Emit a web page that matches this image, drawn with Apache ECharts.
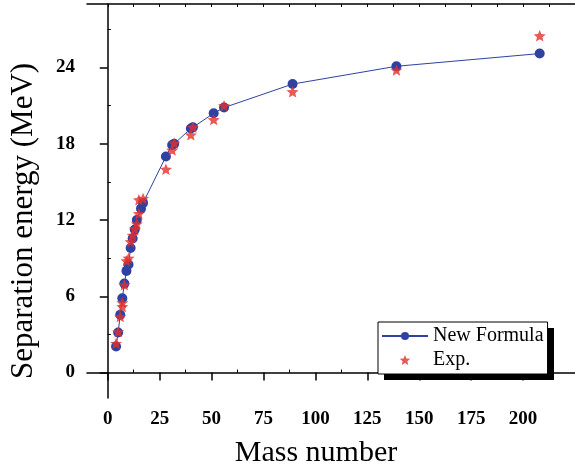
<!DOCTYPE html>
<html>
<head>
<meta charset="utf-8">
<title>Separation energy</title>
<script src="https://cdn.jsdelivr.net/npm/echarts@6/dist/echarts.min.js"></script>
<style>
html,body{margin:0;padding:0;background:#fff;}
#chart{width:575px;height:473px;}
</style>
</head>
<body>
<div id="chart"></div>
<script>
// 数据
var massFormula = [4, 5, 6, 7, 8, 9, 10, 11, 12, 13, 14, 16, 17, 28, 31, 32, 40, 41, 51, 56, 89, 139, 208];
var sepFormula  = [2.05, 3.15, 4.55, 5.85, 7.0, 8.0, 8.5, 9.8, 10.55, 11.25, 12.0, 12.9, 13.35, 17.0, 17.9, 18.0, 19.2, 19.3, 20.4, 20.85, 22.7, 24.1, 25.1];
var massExp = [4, 5, 6, 7, 7, 8, 9, 10, 11, 12, 13, 14, 15, 15, 17, 28, 31, 32, 40, 41, 51, 56, 89, 139, 208];
var sepExp  = [2.3, 3.2, 4.4, 5.2, 5.5, 6.9, 8.8, 9.0, 10.3, 10.8, 11.3, 11.7, 12.5, 13.6, 13.7, 16.0, 17.5, 18.05, 18.7, 19.3, 19.9, 21.0, 22.1, 23.8, 26.5];
var xMajor = [0, 25, 50, 75, 100, 125, 150, 175, 200];
var xMinor = [12.5, 37.5, 62.5, 87.5, 112.5, 137.5, 162.5, 187.5, 212.5];
var yMajor = [0, 6, 12, 18, 24];
var yMinor = [3, 9, 15, 21, 27];

var font = '"Liberation Serif", "Times New Roman", serif';
var starPath = 'path://M0,-10 L2.645,-3.64 L9.51,-3.09 L4.28,1.39 L5.88,8.09 L0,4.5 L-5.88,8.09 L-4.28,1.39 L-9.51,-3.09 L-2.645,-3.64 Z';

function pairs(xs, ys) {
    var out = [];
    for (var i = 0; i < xs.length; i++) out.push([xs[i], ys[i]]);
    return out;
}

var xRange = {min: -10, max: 225};
var yRange = {min: -2, max: 29};

function xAx(extra) {
    return Object.assign({type: 'value', min: xRange.min, max: xRange.max, splitLine: {show: false}}, extra);
}
function yAx(extra) {
    return Object.assign({type: 'value', min: yRange.min, max: yRange.max, splitLine: {show: false}}, extra);
}

var myChart = echarts.init(document.getElementById('chart'));
var option = {
    animation: false,
    backgroundColor: '#fff',
    grid: {left: 86, top: 4, right: -4.5, bottom: 75, containLabel: false},
    // 图例阴影
    graphic: [{
        type: 'rect', z: 0,
        shape: {x: 384, y: 328, width: 170, height: 52},
        style: {fill: '#000'}
    }],
    legend: {
        orient: 'vertical',
        left: 378, top: 322,
        padding: [4, 4, 4, 3],
        itemGap: 4,
        itemWidth: 46, itemHeight: 10,
        backgroundColor: '#fff',
        borderColor: '#000', borderWidth: 1,
        textStyle: {fontFamily: font, fontSize: 20, color: '#000'},
        data: ['New Formula', 'Exp.']
    },
    xAxis: [
        xAx({
            position: 'bottom',
            name: 'Mass number', nameLocation: 'middle', nameGap: 40,
            nameTextStyle: {fontFamily: font, fontSize: 30, color: '#000', padding: [0, 30, 0, 0]},
            axisLine: {lineStyle: {color: '#000', width: 1.5}},
            axisTick: {show: true, inside: false, length: 8, customValues: xMajor, lineStyle: {color: '#000', width: 1.5}},
            axisLabel: {customValues: xMajor, margin: 12, fontFamily: font, fontSize: 19, fontWeight: 'bold', color: '#000'}
        }),
        xAx({
            position: 'bottom',
            axisLine: {show: false},
            axisTick: {show: true, inside: true, length: 3, customValues: xMinor, lineStyle: {color: '#000'}},
            axisLabel: {show: false}
        }),
        xAx({
            position: 'top',
            axisLine: {lineStyle: {color: '#000', width: 1.5}},
            axisTick: {show: true, inside: true, length: 3, customValues: xMajor.concat(xMinor), lineStyle: {color: '#000'}},
            axisLabel: {show: false}
        })
    ],
    yAxis: [
        yAx({
            position: 'left',
            name: 'Separation energy (MeV)', nameLocation: 'middle', nameGap: 48,
            nameTextStyle: {fontFamily: font, fontSize: 31, color: '#000', padding: [0, 40, 0, 0]},
            axisLine: {show: true, lineStyle: {color: '#000', width: 1.5}},
            axisTick: {show: true, inside: false, length: 8, customValues: yMajor, lineStyle: {color: '#000', width: 1.5}},
            axisLabel: {customValues: yMajor, margin: 12, fontFamily: font, fontSize: 19, fontWeight: 'bold', color: '#000'}
        }),
        yAx({
            position: 'left',
            axisLine: {show: false},
            axisTick: {show: true, inside: true, length: 3, customValues: yMinor, lineStyle: {color: '#000'}},
            axisLabel: {show: false}
        })
    ],
    series: [
        {
            name: 'New Formula',
            type: 'line',
            xAxisIndex: 0, yAxisIndex: 0,
            data: pairs(massFormula, sepFormula),
            symbol: 'circle', symbolSize: 10,
            lineStyle: {color: '#2f42a2', width: 1},
            itemStyle: {color: '#2f42a2'},
            z: 2
        },
        {
            name: 'Exp.',
            type: 'scatter',
            xAxisIndex: 0, yAxisIndex: 0,
            data: pairs(massExp, sepExp),
            symbol: starPath, symbolSize: 12, symbolKeepAspect: true,
            itemStyle: {color: '#e3302a'},
            z: 3
        }
    ]
};
myChart.setOption(option);
</script>
</body>
</html>
